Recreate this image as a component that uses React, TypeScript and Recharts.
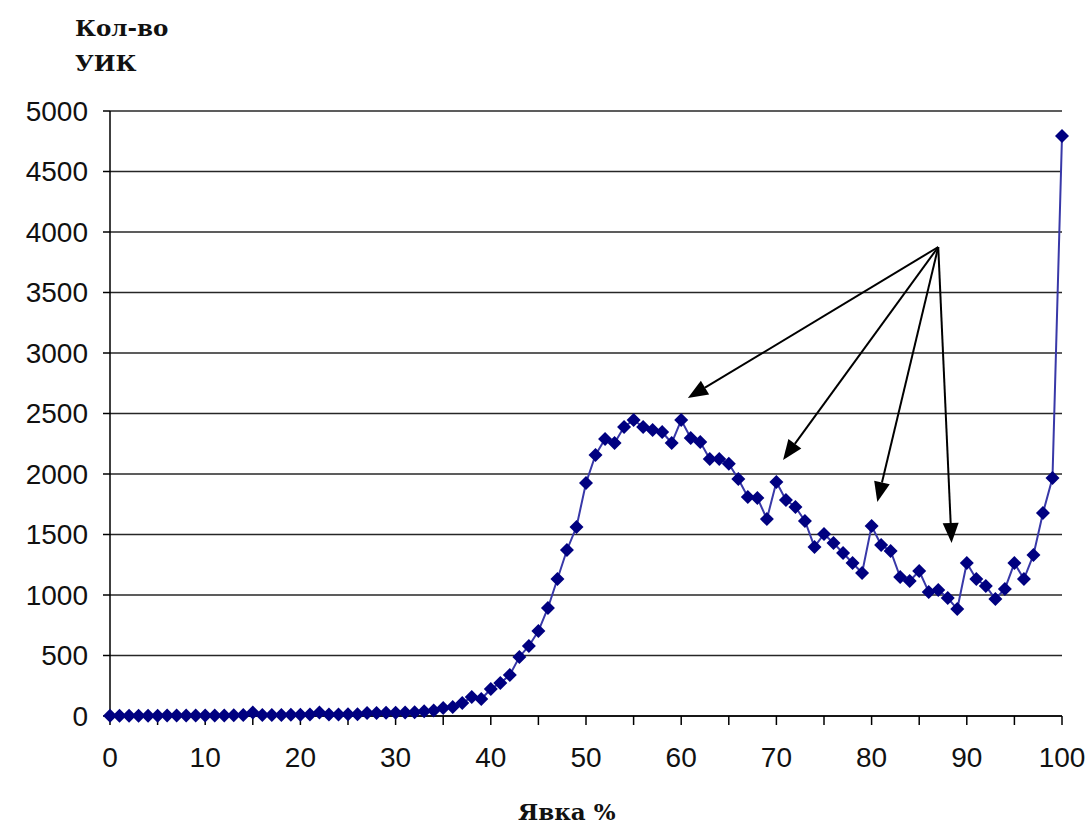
import React from 'react';
import { LineChart, Line, XAxis, YAxis, CartesianGrid, ReferenceLine } from 'recharts';

// turnout, % (0..100)
const turnout = Array.from({ length: 101 }, (_, i) => i);

// number of polling stations for each turnout percentage
const stations = [
  2, 3, 3, 3, 3, 3, 4, 4, 4, 5,
  5, 5, 5, 6, 8, 28, 8, 8, 8, 10,
  10, 12, 28, 12, 12, 14, 15, 24, 24, 26,
  26, 28, 30, 40, 45, 66, 74, 107, 157, 140,
  223, 273, 339, 488, 579, 702, 893, 1132, 1372, 1562,
  1926, 2157, 2289, 2256, 2388, 2446, 2388, 2364, 2347, 2256,
  2446, 2298, 2264, 2124, 2124, 2085, 1959, 1810, 1802, 1628,
  1934, 1785, 1727, 1612, 1397, 1504, 1430, 1347, 1264, 1182,
  1570, 1413, 1364, 1149, 1116, 1198, 1025, 1041, 975, 884,
  1264, 1132, 1074, 967, 1050, 1264, 1132, 1331, 1678, 1967,
  4793,
];

const xTicks = [0, 5, 10, 15, 20, 25, 30, 35, 40, 45, 50, 55, 60, 65, 70, 75, 80, 85, 90, 95, 100];
const yTicks = [0, 500, 1000, 1500, 2000, 2500, 3000, 3500, 4000, 4500, 5000];

// annotation arrows: common start, tips near the peaks at 60, 70, 80, 90
const arrowFrom = { x: 87, y: 3876 };
const arrowTips = [
  { x: 60.7, y: 2628 },
  { x: 70.7, y: 2116 },
  { x: 80.6, y: 1769 },
  { x: 88.4, y: 1430 },
];

const data = turnout.map((t, i) => ({ t, n: stations[i] }));

const Diamond = (props: any) => {
  const { cx, cy, index } = props;
  if (cx == null || cy == null) return <g key={index} />;
  const r = 7;
  return (
    <polygon
      key={index}
      points={`${cx},${cy - r} ${cx + r},${cy} ${cx},${cy + r} ${cx - r},${cy}`}
      fill="#000080"
    />
  );
};

const Arrow = (props: any) => {
  const { x1, y1, x2, y2 } = props;
  if (x1 == null) return null;
  const a = Math.atan2(y2 - y1, x2 - x1);
  const len = 20;
  const w = 8;
  const bx = x2 - len * Math.cos(a);
  const by = y2 - len * Math.sin(a);
  const px = -Math.sin(a) * w;
  const py = Math.cos(a) * w;
  return (
    <g>
      <line x1={x1} y1={y1} x2={bx} y2={by} stroke="#000" strokeWidth={2} />
      <polygon points={`${x2},${y2} ${bx + px},${by + py} ${bx - px},${by - py}`} fill="#000" />
    </g>
  );
};

const titleStyle: React.CSSProperties = {
  position: 'absolute',
  fontFamily: '"DejaVu Serif", "Liberation Serif", serif',
  fontWeight: 'bold',
  fontSize: 23,
  color: '#111',
  lineHeight: '35px',
};

export default function App() {
  return (
    <div style={{ position: 'absolute', left: 0, top: 0, width: 1091, height: 825, background: '#fff' }}>
      <div style={{ ...titleStyle, left: 75, top: 10 }}>
        Кол-во<br />УИК
      </div>
      <LineChart
        width={1091}
        height={825}
        data={data}
        margin={{ top: 111, right: 29, left: 0, bottom: 0 }}
      >
        <CartesianGrid vertical={false} stroke="#000" strokeWidth={1.5} strokeOpacity={0.85} />
        <XAxis
          dataKey="t"
          type="number"
          domain={[0, 100]}
          ticks={xTicks}
          interval={0}
          height={109}
          tickSize={9}
          tickMargin={22}
          tickFormatter={(v: number) => (v % 10 === 0 ? String(v) : '')}
          axisLine={{ stroke: '#000', strokeWidth: 1.5 }}
          tickLine={{ stroke: '#000', strokeWidth: 1.5 }}
          tick={{ fill: '#111', fontSize: 28, fontFamily: '"Liberation Sans", Arial, sans-serif' }}
        />
        <YAxis
          type="number"
          domain={[0, 5000]}
          ticks={yTicks}
          interval={0}
          width={110}
          tickSize={7}
          tickMargin={15}
          axisLine={{ stroke: '#000', strokeWidth: 1.5 }}
          tickLine={{ stroke: '#000', strokeWidth: 1.5 }}
          tick={{ fill: '#111', fontSize: 28, fontFamily: '"Liberation Sans", Arial, sans-serif' }}
        />
        <Line
          dataKey="n"
          stroke="#3838a8"
          strokeWidth={2}
          dot={Diamond}
          activeDot={false}
          isAnimationActive={false}
        />
        {arrowTips.map((tip, i) => (
          <ReferenceLine
            key={i}
            segment={[arrowFrom, tip]}
            shape={Arrow}
            ifOverflow="visible"
          />
        ))}
      </LineChart>
      <div style={{ ...titleStyle, left: 518, top: 794 }}>Явка %</div>
    </div>
  );
}
